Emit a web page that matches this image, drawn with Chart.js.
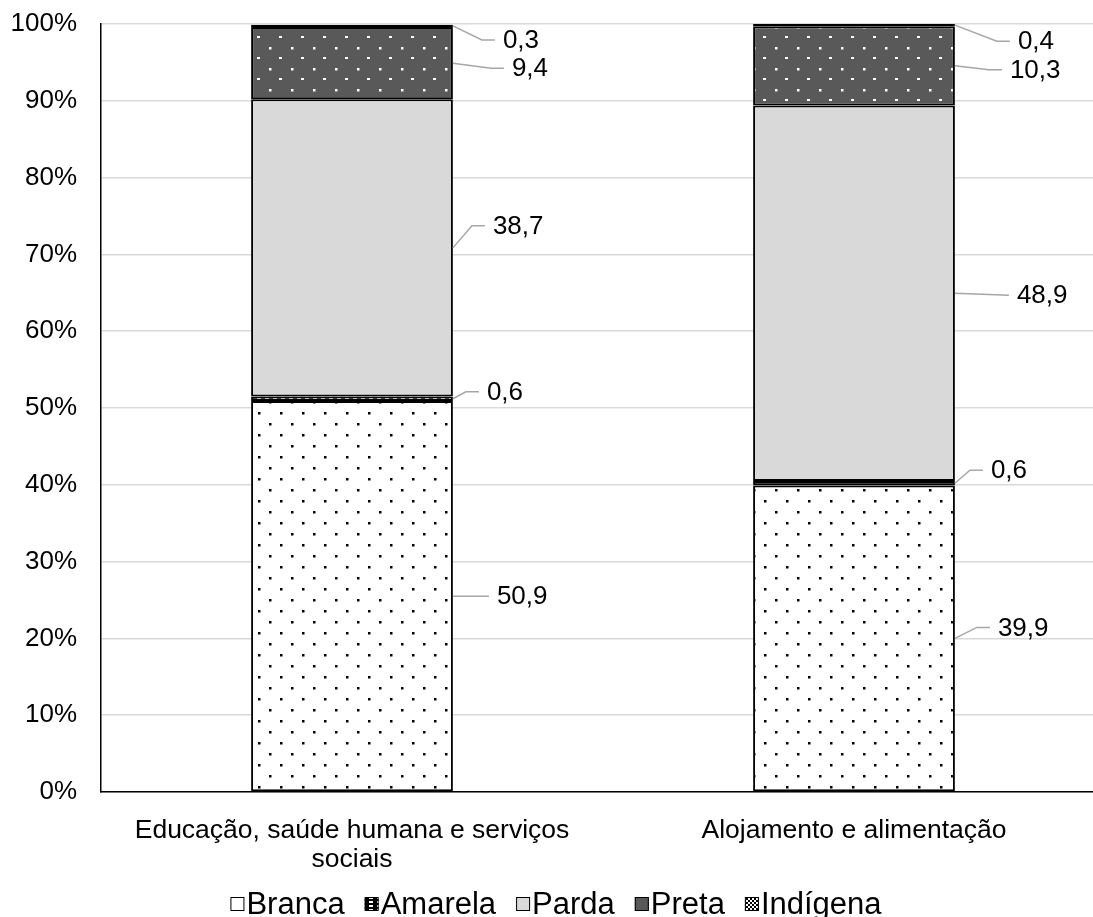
<!DOCTYPE html>
<html>
<head>
<meta charset="utf-8">
<script src="https://cdn.jsdelivr.net/npm/chart.js@4.4.1/dist/chart.umd.min.js"></script>
<style>
  html, body { margin: 0; padding: 0; background: #fff; overflow: hidden; }
  #wrap { width: 1105px; height: 917px; }
</style>
</head>
<body>
<div id="wrap"><canvas id="chart"></canvas></div>
<script>
const categories = [["Educação, saúde humana e serviços", "sociais"], "Alojamento e alimentação"];
const seriesNames = ["Branca", "Amarela", "Parda", "Preta", "Indígena"];
const branca = [50.9, 39.9];
const amarela = [0.6, 0.6];
const parda = [38.7, 48.9];
const preta = [9.4, 10.3];
const indigena = [0.3, 0.4];

// where each value label sits, relative to the right edge / middle of its segment
const labelDx = [[44, 43], [34, 36], [40, 62], [59, 55], [50, 63]];
const labelDy = [[0, -11], [-7, -13], [-22, 2], [5, 4], [14, 16]];

const FONT = "'Liberation Sans', Arial, sans-serif";

function tile(w, h, paint) {
    const c = document.createElement("canvas");
    c.width = w;
    c.height = h;
    const g = c.getContext("2d");
    paint(g);
    return document.createElement("canvas").getContext("2d").createPattern(c, "repeat");
}

const brancaFill = tile(22, 22, g => {
    g.fillStyle = "#fff"; g.fillRect(0, 0, 22, 22);
    g.fillStyle = "#000"; g.fillRect(5, 5, 2.5, 2.5); g.fillRect(16, 16, 2.5, 2.5);
});
const amarelaFill = tile(8, 4, g => {
    g.fillStyle = "#000"; g.fillRect(0, 0, 8, 4);
    g.fillStyle = "#fff"; g.fillRect(1, 1, 4, 2);
});
const pretaFill = tile(22, 21, g => {
    g.fillStyle = "#595959"; g.fillRect(0, 0, 22, 21);
    g.fillStyle = "#fff"; g.fillRect(5, 5, 2.5, 2.5); g.fillRect(15, 15, 3, 2);
});
const indigenaFill = tile(4, 4, g => {
    g.fillStyle = "#fff"; g.fillRect(0, 0, 4, 4);
    g.fillStyle = "#000"; g.fillRect(0, 0, 2, 2); g.fillRect(2, 2, 2, 2);
});

const fills = [brancaFill, amarelaFill, "#d9d9d9", pretaFill, indigenaFill];
const legendFills = ["#fff", amarelaFill, "#d9d9d9", "#595959", indigenaFill];
const values = [branca, amarela, parda, preta, indigena];

const valueLabels = {
    id: "valueLabels",
    afterDatasetsDraw(chart) {
        const ctx = chart.ctx;
        ctx.save();
        ctx.font = "26px " + FONT;
        ctx.textBaseline = "middle";
        ctx.fillStyle = "#000";
        chart.data.datasets.forEach((ds, si) => {
            chart.getDatasetMeta(si).data.forEach((bar, i) => {
                const right = bar.x + bar.width / 2;
                const cy = (Math.max(bar.y, chart.chartArea.top) + bar.base) / 2;
                const tx = right + labelDx[si][i];
                const ty = cy + labelDy[si][i];
                ctx.strokeStyle = "#a6a6a6";
                ctx.lineWidth = 1.5;
                ctx.beginPath();
                ctx.moveTo(right, cy);
                if (Math.abs(ty - cy) > 3) ctx.lineTo(tx - 21, ty);
                ctx.lineTo(tx - 8, ty);
                ctx.stroke();
                ctx.fillText(ds.data[i].toFixed(1).replace(".", ","), tx, ty + 1);
            });
        });
        ctx.restore();
    }
};

const bottomLegend = {
    id: "bottomLegend",
    afterDraw(chart) {
        const ctx = chart.ctx;
        const box = 14, gapText = 2, gapItem = 20;
        ctx.save();
        ctx.font = "31px " + FONT;
        ctx.textBaseline = "middle";
        const widths = seriesNames.map(n => box + gapText + ctx.measureText(n).width);
        const total = widths.reduce((a, b) => a + b, 0) + gapItem * (seriesNames.length - 1);
        let x = 556 - total / 2;
        const y = 904;
        seriesNames.forEach((name, i) => {
            ctx.fillStyle = legendFills[i];
            ctx.fillRect(x, y - box / 2, box, box);
            ctx.strokeStyle = "#000";
            ctx.lineWidth = 1;
            ctx.strokeRect(x + 0.5, y - box / 2 + 0.5, box - 1, box - 1);
            ctx.fillStyle = "#000";
            ctx.fillText(name, x + box + gapText, y + 1);
            x += widths[i] + gapItem;
        });
        ctx.restore();
    }
};

new Chart(document.getElementById("chart"), {
    type: "bar",
    data: {
        labels: categories,
        datasets: seriesNames.map((name, i) => ({
            label: name,
            data: values[i],
            backgroundColor: fills[i],
            borderColor: "#000",
            borderWidth: 2,
            borderSkipped: false,
            barPercentage: 0.402,
            categoryPercentage: 1
        }))
    },
    options: {
        responsive: true,
        maintainAspectRatio: false,
        animation: false,
        layout: { padding: { top: 24, left: 12, right: 0, bottom: 44 } },
        plugins: { legend: { display: false }, tooltip: { enabled: false } },
        scales: {
            x: {
                stacked: true,
                grid: { display: false, drawTicks: false },
                border: { color: "#000", width: 1.5 },
                ticks: { color: "#000", font: { family: FONT, size: 26.5, lineHeight: 1.1 }, padding: 24, maxRotation: 0, autoSkip: false },
                afterFit: s => { s.height = 81; s.paddingLeft = 0; s.paddingRight = 0; }
            },
            y: {
                stacked: true,
                min: 0,
                max: 100,
                ticks: { stepSize: 10, color: "#000", font: { family: FONT, size: 26 }, padding: 24, callback: v => v + "%" },
                grid: { color: "#d9d9d9", lineWidth: 1.5, drawTicks: false },
                border: { color: "#000", width: 1.5 },
                afterFit: s => { s.width = 89; s.paddingTop = 0; s.paddingBottom = 0; }
            }
        }
    },
    plugins: [valueLabels, bottomLegend]
});
</script>
</body>
</html>
